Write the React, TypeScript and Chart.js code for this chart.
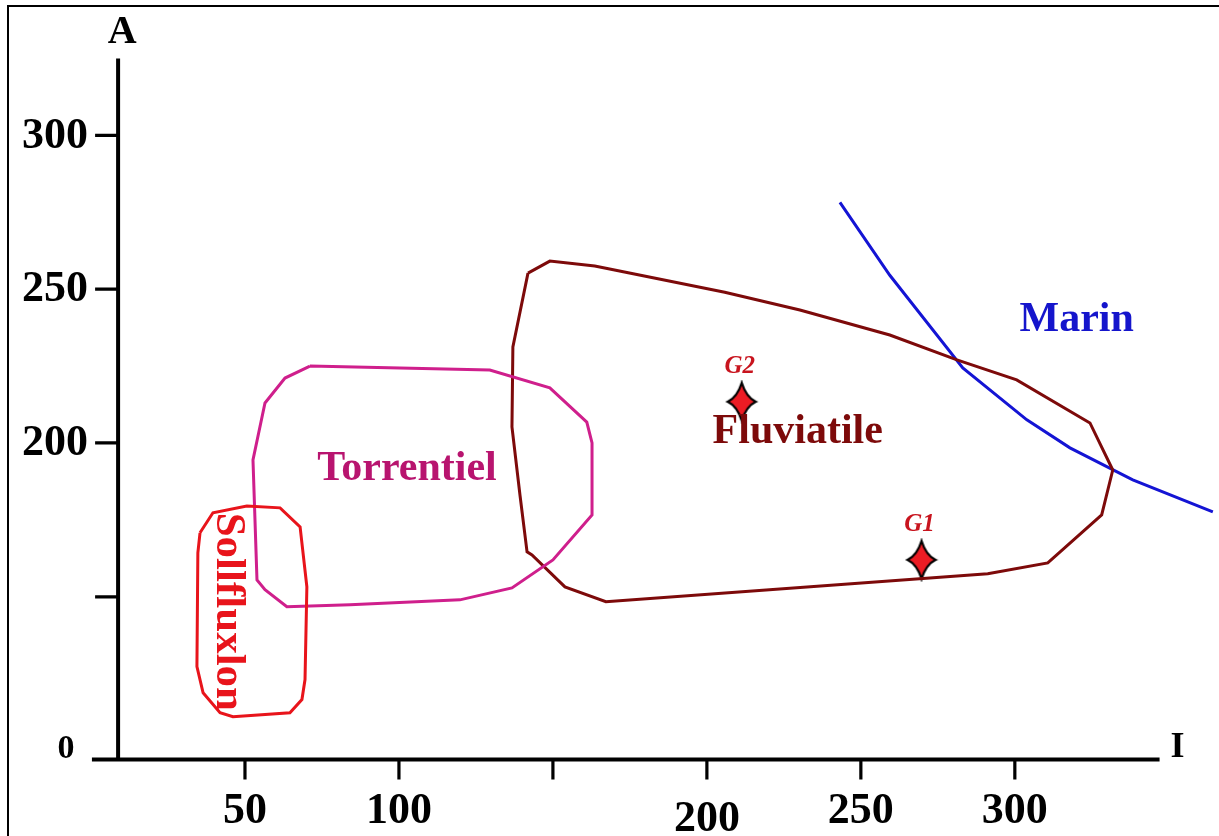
import React, { useEffect, useRef } from "react";
import { Chart, registerables } from "chart.js";

Chart.register(...registerables);

// ---- data (I, A) ----
const FLUVIATILE_X = [141.9, 149.0, 163.6, 205.8, 230.2, 259.4, 281.2, 300.6, 324.4, 331.8, 328.2, 310.7, 291.2, 167.2, 153.9, 143.2, 141.6, 139.3, 136.7, 137.0, 141.9];
const FLUVIATILE_Y = [255.2, 259.1, 257.5, 249.0, 243.2, 235.1, 227.0, 220.5, 206.5, 191.2, 176.6, 161.0, 157.5, 148.4, 153.2, 163.6, 164.6, 183.1, 205.2, 231.2, 255.2];

const TORRENTIEL_X = [71.1, 129.5, 149.0, 161.0, 162.7, 162.7, 150.0, 136.7, 119.8, 84.1, 63.6, 56.5, 53.9, 52.6, 56.5, 63.0, 71.1];
const TORRENTIEL_Y = [225.0, 223.7, 217.9, 206.8, 200.0, 176.6, 162.0, 152.9, 149.0, 147.4, 146.8, 152.3, 155.5, 194.5, 213.0, 221.1, 225.0];

const SOLLFLUXLON_X = [35.4, 39.6, 50.6, 61.4, 67.9, 70.1, 69.5, 68.5, 64.6, 46.1, 41.9, 36.4, 34.4, 34.7, 35.4];
const SOLLFLUXLON_Y = [170.8, 177.3, 179.5, 178.9, 172.7, 153.2, 123.1, 116.6, 112.3, 111.0, 112.3, 118.8, 127.3, 164.3, 170.8];

const MARIN_X = [243.2, 259.4, 283.1, 303.9, 317.9, 338.3, 364.3];
const MARIN_Y = [278.2, 254.5, 224.4, 207.5, 198.4, 188.0, 177.6];

const SAMPLE_NAMES = ["G1", "G2"];
const SAMPLE_X = [269.7, 211.3];
const SAMPLE_Y = [162.0, 213.4];

// ---- axes ----
const X_TICKS = [50, 100, 150, 200, 250, 300];
const X_TICK_LABELS = ["50", "100", "", "200", "250", "300"];
const Y_TICKS = [150, 200, 250, 300];
const Y_TICK_LABELS = ["", "200", "250", "300"];
const ORIGIN_LABEL = "0";
const X_TITLE = "I";
const Y_TITLE = "A";

// region label names and anchor (data coords)
const REGION_NAMES = ["Fluviatile", "Torrentiel", "Marin", "Sollfluxlon"];
const REGION_LABEL_X = [229.5, 102.6, 320.1, 44.5];
const REGION_LABEL_Y = [203.6, 191.6, 240.0, 145.1];

const X_MIN = 0, X_MAX = 365, Y_MIN = 95, Y_MAX = 330;
const AXIS_X_AT = 8.8;      // data x of vertical axis
const AXIS_Y_AT = 97.1;     // data y of horizontal axis
const AXIS_X_END = 347;
const AXIS_X_START = 0.3;
const AXIS_Y_END = 325;

const pts = (xs: number[], ys: number[]) => xs.map((x, i) => ({ x, y: ys[i] }));

const FONT = "'Liberation Serif', 'Times New Roman', serif";

function makeStar(): HTMLCanvasElement {
  const c = document.createElement("canvas");
  const w = 34, h = 44;
  c.width = w; c.height = h;
  const g = c.getContext("2d")!;
  const cx = w / 2, cy = h / 2;
  const rx = 14, ry = 19, k = 4.5;
  g.beginPath();
  g.moveTo(cx, cy - ry);
  g.quadraticCurveTo(cx + k, cy - k, cx + rx, cy);
  g.quadraticCurveTo(cx + k, cy + k, cx, cy + ry);
  g.quadraticCurveTo(cx - k, cy + k, cx - rx, cy);
  g.quadraticCurveTo(cx - k, cy - k, cx, cy - ry);
  g.closePath();
  g.fillStyle = "#ec1c24";
  g.fill();
  g.lineWidth = 2.2;
  g.strokeStyle = "#000";
  g.stroke();
  return c;
}

const overlayPlugin = {
  id: "overlay",
  beforeDatasetsDraw(chart: any) {
    const { ctx } = chart;
    const xs = chart.scales.x, ys = chart.scales.y;
    const ax = xs.getPixelForValue(AXIS_X_AT);
    const ay = ys.getPixelForValue(AXIS_Y_AT);
    ctx.save();
    ctx.strokeStyle = "#000";
    ctx.lineWidth = 4;
    ctx.lineCap = "butt";
    ctx.beginPath();
    ctx.moveTo(ax, ys.getPixelForValue(AXIS_Y_END));
    ctx.lineTo(ax, ay + 2);
    ctx.moveTo(xs.getPixelForValue(AXIS_X_START), ay);
    ctx.lineTo(xs.getPixelForValue(AXIS_X_END), ay);
    ctx.stroke();
    ctx.lineWidth = 3.2;
    // y ticks
    ctx.beginPath();
    Y_TICKS.forEach((v) => {
      const py = ys.getPixelForValue(v);
      ctx.moveTo(ax - 23, py);
      ctx.lineTo(ax, py);
    });
    // x ticks
    X_TICKS.forEach((v) => {
      const px = xs.getPixelForValue(v);
      ctx.moveTo(px, ay);
      ctx.lineTo(px, ay + 20);
    });
    ctx.stroke();

    ctx.fillStyle = "#000";
    ctx.font = `bold 44px ${FONT}`;
    ctx.textAlign = "right";
    ctx.textBaseline = "middle";
    Y_TICKS.forEach((v, i) => {
      ctx.fillText(Y_TICK_LABELS[i], ax - 30, ys.getPixelForValue(v) + 1);
    });
    ctx.textAlign = "center";
    X_TICKS.forEach((v, i) => {
      const drop = X_TICK_LABELS[i] === "200" ? 8 : 0;
      ctx.fillText(X_TICK_LABELS[i], xs.getPixelForValue(v), ay + 52 + drop);
    });
    ctx.font = `bold 34px ${FONT}`;
    ctx.fillText(ORIGIN_LABEL, ax - 52, ay - 10);
    ctx.font = `bold 40px ${FONT}`;
    ctx.fillText(Y_TITLE, ax + 4, ys.getPixelForValue(AXIS_Y_END) - 26);
    ctx.font = `bold 36px ${FONT}`;
    ctx.fillText(X_TITLE, xs.getPixelForValue(AXIS_X_END) + 18, ay - 12);
    ctx.restore();
  },
  afterDatasetsDraw(chart: any) {
    const { ctx } = chart;
    const xs = chart.scales.x, ys = chart.scales.y;
    ctx.save();
    ctx.textAlign = "center";
    ctx.textBaseline = "middle";
    const colors = ["#7d0a0a", "#b8146f", "#1515cc", "#e8141b"];
    REGION_NAMES.forEach((name, i) => {
      const px = xs.getPixelForValue(REGION_LABEL_X[i]);
      const py = ys.getPixelForValue(REGION_LABEL_Y[i]);
      ctx.fillStyle = colors[i];
      if (name === "Sollfluxlon") {
        ctx.font = `bold 43px ${FONT}`;
        ctx.save();
        ctx.translate(px, py);
        ctx.rotate(Math.PI / 2);
        ctx.fillText(name, 0, 0);
        ctx.restore();
      } else {
        ctx.font = `bold 42px ${FONT}`;
        ctx.fillText(name, px, py);
      }
    });
    ctx.fillStyle = "#c8141e";
    ctx.font = `italic bold 25px ${FONT}`;
    SAMPLE_NAMES.forEach((n, i) => {
      const px = xs.getPixelForValue(SAMPLE_X[i]);
      const py = ys.getPixelForValue(SAMPLE_Y[i]);
      ctx.fillText(n, px - 2, py - 35);
    });
    ctx.restore();
  },
};

export default function App() {
  const ref = useRef<HTMLCanvasElement | null>(null);
  useEffect(() => {
    if (!ref.current) return;
    const star = makeStar();
    const line = (label: string, data: any[], color: string) => ({
      label,
      data,
      showLine: true,
      borderColor: color,
      borderWidth: 3,
      pointRadius: 0,
      tension: 0,
      fill: false,
    });
    const chart = new Chart(ref.current, {
      type: "scatter",
      data: {
        datasets: [
          line("Sollfluxlon", pts(SOLLFLUXLON_X, SOLLFLUXLON_Y), "#e8141b"),
          line("Torrentiel", pts(TORRENTIEL_X, TORRENTIEL_Y), "#cf1f8c"),
          line("Fluviatile", pts(FLUVIATILE_X, FLUVIATILE_Y), "#7d0a0a"),
          line("Marin", pts(MARIN_X, MARIN_Y), "#1414d4"),
          {
            label: "Samples",
            data: pts(SAMPLE_X, SAMPLE_Y),
            showLine: false,
            pointStyle: star as any,
            pointRadius: 14,
          } as any,
        ],
      },
      options: {
        animation: false,
        responsive: false,
        layout: { autoPadding: false, padding: { left: 91, right: 4, top: 43, bottom: 70 } },
        plugins: { legend: { display: false }, tooltip: { enabled: false } },
        scales: {
          x: { type: "linear", min: X_MIN, max: X_MAX, display: false },
          y: { type: "linear", min: Y_MIN, max: Y_MAX, display: false },
        },
      },
      plugins: [overlayPlugin],
    });
    return () => chart.destroy();
  }, []);
  return (
    <div style={{ position: "fixed", left: 0, top: 0, width: 1219, height: 836, overflow: "hidden", background: "#fff" }}>
      <div style={{ position: "absolute", left: 7, top: 5, width: 1300, height: 1000, borderLeft: "2px solid #000", borderTop: "2px solid #000" }} />
      <canvas ref={ref} width={1219} height={836} style={{ position: "absolute", left: 0, top: 0 }} />
    </div>
  );
}
